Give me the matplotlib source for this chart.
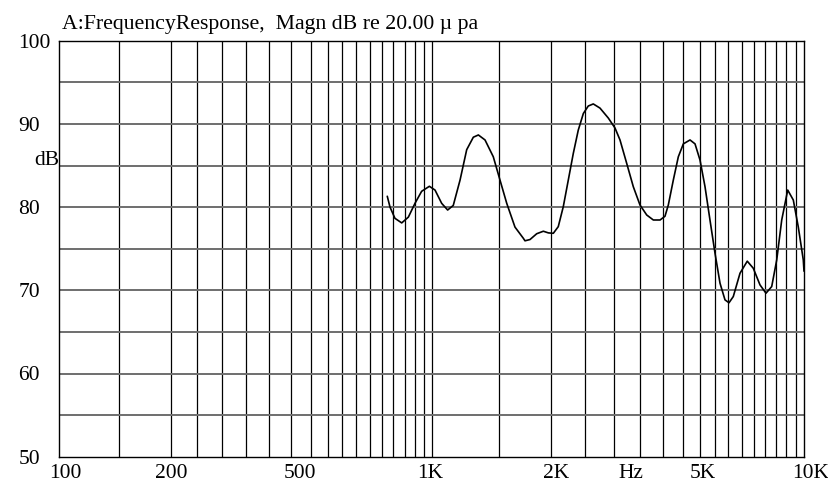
import matplotlib
matplotlib.use("Agg")
import matplotlib.pyplot as plt
import matplotlib.transforms as mtransforms

plt.rcParams['font.family'] = ['Liberation Serif', 'DejaVu Serif']

# response curve
freq_hz = [760, 773, 797, 831, 866, 902, 940, 986, 1021, 1064, 1104, 1143,
           1192, 1242, 1294, 1335, 1391, 1464, 1526, 1591, 1674, 1763, 1781,
           1837, 1915, 1995, 2058, 2122, 2188, 2257, 2328, 2401, 2476, 2555,
           2634, 2717, 2832, 2982, 3108, 3205, 3341, 3480, 3627, 3781, 3939,
           4106, 4233, 4321, 4457, 4597, 4742, 4942, 5097, 5257, 5422, 5591,
           5768, 5949, 6135, 6289, 6458, 6732, 7041, 7308, 7617, 7905, 8190,
           8448, 8713, 9042, 9360, 9654, 9956, 10000]
level_db = [81.3, 80.0, 78.65, 78.1, 78.8, 80.45, 81.9, 82.5, 82.05, 80.45,
            79.65, 80.2, 83.25, 86.9, 88.4, 88.67, 88.07, 86.05, 83.25, 80.45,
            77.6, 76.25, 75.95, 76.1, 76.8, 77.1, 76.9, 76.85, 77.65, 80.05,
            83.25, 86.45, 89.25, 91.25, 92.15, 92.4, 91.9, 90.7, 89.5, 88.07,
            85.25, 82.45, 80.25, 79.05, 78.45, 78.45, 78.9, 80.25, 83.25,
            86.05, 87.6, 88.07, 87.6, 85.65, 82.45, 78.45, 74.45, 70.85,
            68.85, 68.5, 69.25, 72.05, 73.5, 72.65, 70.65, 69.65, 70.45,
            73.65, 78.45, 82.05, 80.85, 77.6, 73.65, 72.3]

# vertical grid as drawn in the original
grid_hz = [145, 200, 235, 273, 317, 366, 418, 473, 526, 575, 628, 682, 734,
           787, 847, 902, 954, 1000, 1517, 2096, 2576, 3089, 3626, 4173, 4732,
           5257, 5768, 6262, 6804, 7326, 7858, 8426, 8965, 9500]
grid_db = [55, 60, 65, 70, 75, 80, 85, 90, 95]

xlabel_pos = [104, 200, 443, 990, 2163, 3420, 5342, 10400]
xlabel_txt = ['100', '200', '500', '1K', '2K', 'Hz', '5K', '10K']
ytick_db = [50, 60, 70, 80, 90, 100]

fig = plt.figure(figsize=(8.29, 4.84), dpi=100)
ax = fig.add_axes([59.3 / 829, 27.3 / 484, 744.7 / 829, 416 / 484])

ax.set_xscale('log')
ax.set_xlim(100, 10000)
ax.set_ylim(50, 100)

for g in grid_hz:
    ax.axvline(g, color='black', lw=0.9, zorder=1)
for g in grid_db:
    ax.axhline(g, color='#6e6e6e', lw=1.4, zorder=1)

ax.plot(freq_hz, level_db, color='black', lw=1.2, zorder=3,
        solid_joinstyle='round', solid_capstyle='round')

ax.xaxis.set_major_locator(plt.NullLocator())
ax.xaxis.set_minor_locator(plt.NullLocator())
trans = mtransforms.blended_transform_factory(ax.transData, ax.transAxes)
for pos, txt in zip(xlabel_pos, xlabel_txt):
    ax.text(pos, -0.018, txt, transform=trans, ha='center', va='top',
            fontsize=15.5, clip_on=False)

ax.set_yticks(ytick_db)
ax.set_yticklabels([str(v) for v in ytick_db])
ax.tick_params(axis='y', length=0, pad=29.5, labelsize=15.5)
for lbl in ax.get_yticklabels():
    lbl.set_horizontalalignment('left')

ax.text(0.0, 0.711, 'dB', transform=ax.transAxes, ha='right', va='center',
        fontsize=15.5)

for s in ax.spines.values():
    s.set_color('black')
    s.set_linewidth(1.0)

fig.text(61.7 / 829, 1 - 24 / 484, 'A:FrequencyResponse,  Magn dB re 20.00 \u00b5 pa',
         ha='left', va='center', fontsize=15.7)

fig.savefig('out.png', dpi=100)
